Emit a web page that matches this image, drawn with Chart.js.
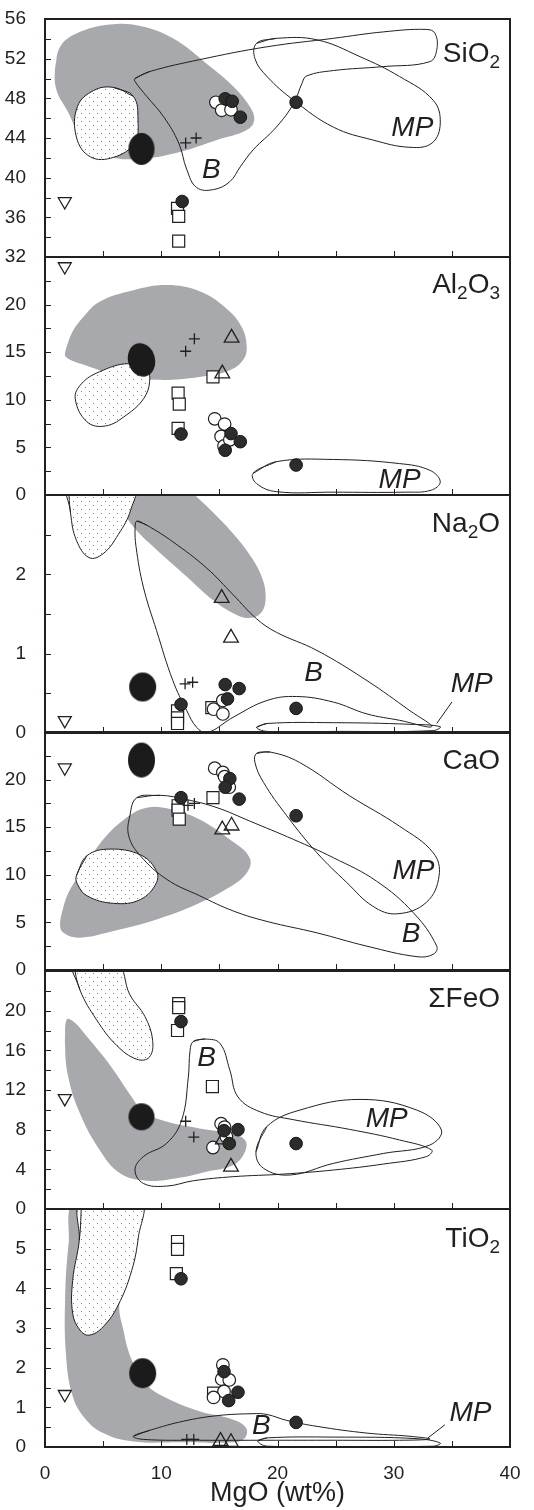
<!DOCTYPE html>
<html>
<head>
<meta charset="utf-8">
<script src="https://cdn.jsdelivr.net/npm/chart.js@4.4.1/dist/chart.umd.min.js"></script>
<style>
  html, body { margin: 0; padding: 0; background: #fff; }
  #wrap { position: relative; width: 534px; height: 1510px; overflow: hidden; }
  #wrap canvas { position: absolute; left: 0; }
</style>
</head>
<body>
<div id="wrap"></div>
<script>
// x axis (MgO, wt%)
const mgoTicks = [0, 10, 20, 30, 40];
const mgoMarks = [5, 10, 15, 20, 25, 30, 35];

// ---- SiO2 ----
const sio2Ticks = [32, 36, 40, 44, 48, 52, 56];
const sio2Filled = [[11.8, 37.6], [15.5, 47.95], [16.1, 47.7], [16.8, 46.1], [21.6, 47.6]];
const sio2Open = [[14.7, 47.6], [15.2, 46.8], [16.0, 46.85]];
const sio2Square = [[11.4, 36.9], [11.5, 36.1], [11.5, 33.6]];
const sio2Cross = [[12.1, 43.5], [13.0, 44.0]];
const sio2Tri = [];
const sio2Inv = [[1.7, 37.6]];
const sio2Big = [[8.3, 42.9]];
const sio2Gray = [[0.86, 50.9], [1.3, 53.2], [2.7, 54.55], [5.6, 55.45], [8.2, 55.3], [11.0, 54.05], [13.9, 51.5], [16.2, 49.2], [17.6, 47.2], [18.0, 45.8], [17.35, 44.8], [14.8, 43.8], [11.6, 42.6], [8.5, 41.95], [5.6, 42.1], [3.3, 43.8], [1.9, 46.8], [1.0, 48.8]];
const sio2Dots = [[5.9, 49.1], [7.6, 48.2], [8.0, 45.8], [7.7, 43.5], [5.9, 42.05], [3.9, 42.1], [2.7, 44.1], [2.8, 47.2], [4.2, 48.8]];
const sio2B = [[7.74, 50.0], [9.0, 50.7], [13.3, 51.9], [19.1, 53.2], [24.8, 54.05], [29.1, 54.7], [32.8, 54.95], [33.55, 54.55], [33.7, 52.9], [33.1, 51.7], [29.1, 51.2], [24.8, 50.8], [22.5, 50.25], [22.1, 49.5], [21.4, 47.5], [19.9, 45.1], [17.9, 42.8], [16.8, 41.1], [15.9, 39.6], [14.5, 38.8], [13.05, 39.0], [12.2, 40.8], [11.5, 43.5], [10.2, 46.15], [8.75, 48.2], [7.74, 49.7]];
const sio2MP = [[18.2, 53.55], [19.9, 54.05], [23.4, 53.9], [27.1, 52.2], [30.5, 50.2], [33.4, 47.8], [34.0, 45.5], [33.3, 43.5], [31.4, 43.06], [28.2, 43.8], [24.8, 45.1], [21.4, 47.8], [19.1, 50.2], [18.06, 52.0]];
const sio2Notes = [['B', 14.3, 40.8], ['MP', 31.6, 45.0]];

// ---- Al2O3 ----
const al2o3Ticks = [0, 5, 10, 15, 20];
const al2o3Filled = [[11.7, 6.4], [16.0, 6.45], [16.8, 5.6], [15.5, 4.7], [21.6, 3.15]];
const al2o3Open = [[14.6, 8.0], [15.45, 7.45], [15.15, 6.15], [15.4, 5.15], [15.9, 5.8]];
const al2o3Square = [[11.45, 10.7], [11.55, 9.55], [11.45, 7.0], [14.45, 12.4]];
const al2o3Cross = [[12.1, 15.1], [12.85, 16.4]];
const al2o3Tri = [[16.05, 16.5], [15.25, 12.75]];
const al2o3Inv = [[1.7, 24.0]];
const al2o3Big = [[8.3, 14.2]];
const al2o3Gray = [[1.72, 14.9], [2.3, 17.0], [3.3, 18.7], [4.7, 20.3], [7.6, 21.5], [10.5, 22.05], [13.3, 21.4], [15.6, 19.6], [16.9, 17.7], [17.35, 15.6], [17.05, 14.2], [15.9, 13.1], [13.3, 12.4], [9.6, 12.1], [6.2, 12.6], [3.3, 13.7], [1.9, 14.4]];
const al2o3Dots = [[7.2, 13.8], [8.75, 13.1], [9.0, 11.9], [8.5, 10.15], [7.0, 8.4], [5.2, 7.25], [3.6, 7.7], [2.6, 10.15], [3.15, 11.7], [4.7, 12.95]];
const al2o3B = [];
const al2o3MP = [[17.9, 2.28], [19.9, 3.5], [24.8, 3.73], [30.5, 3.3], [33.1, 2.6], [34.0, 1.4], [33.2, 0.5], [31.0, 0.3], [24.8, 0.3], [19.9, 0.35], [18.2, 1.2]];
const al2o3Notes = [['MP', 30.5, 1.6]];

// ---- Na2O ----
const na2oTicks = [0, 1, 2];
const na2oFilled = [[11.7, 0.36], [15.5, 0.61], [16.7, 0.56], [15.7, 0.43], [21.6, 0.31]];
const na2oOpen = [[14.5, 0.3], [15.3, 0.24], [15.3, 0.41]];
const na2oSquare = [[11.4, 0.28], [11.4, 0.19], [11.4, 0.12], [14.35, 0.32]];
const na2oCross = [[12.05, 0.62], [12.7, 0.64]];
const na2oTri = [[15.2, 1.7], [16.0, 1.2]];
const na2oInv = [[1.7, 0.16]];
const na2oBig = [[8.4, 0.58]];
const na2oGray = [[7.46, 3.32], [7.17, 2.94], [6.97, 2.77], [7.6, 2.6], [9.6, 2.31], [12.2, 1.97], [14.5, 1.67], [16.2, 1.51], [17.5, 1.45], [18.55, 1.51], [18.98, 1.7], [18.64, 1.97], [17.5, 2.27], [15.9, 2.56], [13.9, 2.86], [12.5, 3.07], [11.6, 3.32]];
const na2oDots = [[2.0, 3.19], [2.2, 2.77], [2.7, 2.43], [3.8, 2.21], [5.0, 2.26], [6.3, 2.5], [7.37, 2.81], [7.74, 3.19]];
const na2oB = [[7.9, 2.67], [8.75, 2.62], [11.0, 2.41], [13.9, 2.08], [16.2, 1.74], [18.2, 1.44], [19.9, 1.27], [23.4, 1.04], [27.7, 0.66], [31.4, 0.28], [33.26, 0.08], [30.5, 0.16], [27.7, 0.24], [24.8, 0.39], [21.65, 0.46], [19.1, 0.41], [16.2, 0.2], [13.9, 0.0], [13.05, 0.07], [12.2, 0.28], [11.0, 0.66], [9.6, 1.29], [8.46, 1.84], [7.83, 2.35], [7.75, 2.58]];
const na2oMP = [[18.2, 0.07], [19.1, 0.12], [24.8, 0.13], [31.4, 0.11], [34.0, 0.08], [33.4, 0.03], [24.8, 0.02], [19.1, 0.02]];
const na2oLeader = [[33.7, 0.12], [35.0, 0.39]];
const na2oNotes = [['B', 23.1, 0.75], ['MP', 36.7, 0.62]];

// ---- CaO ----
const caoTicks = [0, 5, 10, 15, 20];
const caoFilled = [[11.7, 18.1], [15.9, 20.1], [15.5, 19.2], [16.7, 17.95], [21.6, 16.2]];
const caoOpen = [[14.6, 21.2], [15.3, 20.75], [15.45, 20.3], [15.85, 19.2]];
const caoSquare = [[14.45, 18.1], [11.45, 17.25], [11.45, 16.8], [11.55, 15.85]];
const caoCross = [[12.3, 17.3], [12.85, 17.5]];
const caoTri = [[15.25, 14.75], [16.05, 15.15]];
const caoInv = [[1.7, 21.25]];
const caoBig = [[8.3, 22.05]];
const caoGray = [[1.3, 5.0], [1.9, 7.8], [3.3, 10.6], [5.0, 13.7], [7.0, 16.0], [8.75, 17.05], [10.75, 16.9], [13.3, 15.8], [15.9, 13.7], [17.6, 11.8], [17.35, 10.2], [15.6, 8.5], [13.05, 6.9], [9.6, 5.3], [5.9, 4.1], [3.0, 3.4], [1.6, 3.9]];
const caoDots = [[2.7, 9.9], [3.6, 12.0], [5.6, 12.7], [8.2, 12.1], [9.5, 10.6], [9.6, 9.2], [8.2, 7.4], [5.9, 7.0], [3.6, 7.8], [2.8, 9.0]];
const caoB = [[7.9, 18.1], [9.9, 18.35], [12.2, 17.9], [14.8, 17.05], [17.6, 15.65], [21.4, 13.7], [24.8, 11.8], [28.5, 9.35], [31.7, 6.0], [33.7, 2.5], [33.4, 1.65], [32.0, 1.4], [27.7, 2.5], [23.4, 3.9], [19.1, 5.1], [16.2, 6.2], [13.3, 7.8], [10.5, 9.5], [8.2, 12.0], [7.2, 14.1], [7.3, 16.2]];
const caoMP = [[18.2, 22.75], [19.35, 22.9], [21.9, 21.8], [26.2, 18.3], [30.5, 15.1], [33.4, 12.3], [33.9, 9.9], [32.8, 7.1], [30.25, 5.9], [28.2, 6.7], [25.95, 9.2], [23.4, 12.3], [20.8, 16.2], [18.8, 19.7], [18.06, 21.8]];
const caoNotes = [['MP', 31.7, 10.4], ['B', 31.5, 3.75]];

// ---- ΣFeO ----
const feoTicks = [0, 4, 8, 12, 16, 20];
const feoFilled = [[11.7, 18.9], [15.4, 7.9], [16.6, 8.0], [15.85, 6.6], [21.6, 6.6]];
const feoOpen = [[15.15, 8.6], [15.45, 8.25], [14.45, 6.2], [15.6, 7.3]];
const feoSquare = [[11.5, 20.7], [11.5, 20.3], [11.4, 18.0], [14.4, 12.35]];
const feoCross = [[12.1, 8.85], [12.8, 7.25]];
const feoTri = [[16.0, 4.25], [15.3, 7.0]];
const feoInv = [[1.7, 11.15]];
const feoBig = [[8.3, 9.3]];
const feoGray = [[1.86, 19.1], [1.72, 16.7], [2.0, 13.3], [3.0, 9.65], [4.7, 5.95], [6.45, 3.6], [8.75, 2.85], [11.3, 3.1], [13.9, 3.76], [16.2, 4.43], [17.2, 5.78], [17.2, 6.96], [15.9, 7.63], [13.3, 8.13], [10.5, 8.8], [8.46, 9.8], [7.46, 11.3], [5.6, 14.5], [3.6, 17.4], [2.44, 18.9]];
const feoDots = [[2.44, 24.8], [3.0, 22.1], [4.44, 19.07], [6.16, 16.5], [7.9, 15.1], [8.97, 15.3], [9.26, 17.0], [8.6, 19.4], [7.3, 21.6], [6.16, 24.8]];
const feoB = [[12.76, 16.9], [13.76, 17.14], [15.05, 16.7], [15.9, 14.0], [16.6, 11.3], [18.5, 9.8], [21.4, 9.0], [26.2, 8.03], [30.5, 6.96], [33.26, 5.95], [32.8, 5.28], [29.1, 4.53], [24.8, 3.93], [20.5, 3.52], [16.2, 3.26], [12.76, 2.85], [10.47, 2.31], [8.46, 2.58], [7.74, 3.93], [8.46, 5.28], [10.47, 6.63], [11.76, 8.97], [12.33, 13.3], [12.48, 16.0]];
const feoMP = [[18.15, 5.78], [19.07, 8.3], [21.94, 9.98], [27.1, 11.05], [31.97, 9.98], [34.1, 7.96], [33.1, 6.45], [29.1, 5.6], [24.8, 4.6], [21.1, 3.43], [18.8, 4.1]];
const feoNotes = [['B', 13.9, 15.2], ['MP', 29.4, 9.1]];

// ---- TiO2 ----
const tio2Ticks = [0, 1, 2, 3, 4, 5];
const tio2Filled = [[11.7, 4.24], [15.4, 1.9], [16.6, 1.38], [15.8, 1.17], [21.6, 0.62]];
const tio2Open = [[15.3, 2.07], [15.2, 1.71], [15.85, 1.69], [15.4, 1.4], [14.5, 1.25]];
const tio2Square = [[11.4, 5.18], [11.4, 4.98], [11.3, 4.37], [14.5, 1.36]];
const tio2Cross = [[12.2, 0.19], [12.8, 0.19]];
const tio2Tri = [[15.1, 0.15], [16.0, 0.12]];
const tio2Inv = [[1.7, 1.33]];
const tio2Big = [[8.4, 1.86]];
const tio2Gray = [[2.58, 6.2], [2.0, 5.04], [1.72, 3.62], [1.8, 2.36], [2.3, 1.36], [3.3, 0.77], [5.0, 0.35], [7.6, 0.14], [11.9, 0.12], [16.2, 0.12], [17.2, 0.23], [17.3, 0.48], [16.2, 0.69], [13.3, 0.9], [10.5, 1.23], [8.75, 1.57], [7.46, 2.2], [6.74, 2.95], [6.4, 3.62], [7.6, 6.2]];
const tio2Dots = [[3.15, 6.2], [2.95, 5.21], [2.38, 4.2], [2.38, 3.37], [3.0, 2.95], [3.8, 2.82], [5.0, 3.03], [6.3, 3.58], [7.46, 4.45], [8.03, 5.29], [8.23, 6.2]];
const tio2B = [[7.6, 0.27], [9.0, 0.42], [11.9, 0.65], [14.8, 0.79], [17.9, 0.84], [19.1, 0.82], [20.8, 0.67], [23.4, 0.52], [27.7, 0.35], [31.4, 0.27], [33.1, 0.2], [30.5, 0.17], [24.8, 0.17], [19.1, 0.17], [13.3, 0.17], [8.5, 0.19]];
const tio2MP = [[18.3, 0.15], [19.1, 0.23], [24.8, 0.25], [32.0, 0.21], [34.0, 0.1], [33.4, 0.02], [24.8, 0.0], [19.1, 0.02]];
const tio2Leader = [[32.9, 0.22], [34.4, 0.56]];
const tio2Notes = [['B', 18.6, 0.52], ['MP', 36.6, 0.86]];

const FONT = '"Liberation Sans", Arial, Helvetica, sans-serif';
const INK = '#231f20';
Chart.defaults.font.family = FONT;
Chart.defaults.color = INK;

const panels = [
  { name: [['SiO', 0], ['2', 1]], nameDy: 43, top: 19, min: 32, max: 56, step: 2, ticks: sio2Ticks, blob: [26, 32, 0],
    filled: sio2Filled, open: sio2Open, square: sio2Square, cross: sio2Cross, tri: sio2Tri, inv: sio2Inv, big: sio2Big,
    gray: sio2Gray, dots: sio2Dots, b: sio2B, mp: sio2MP, leader: null, notes: sio2Notes },
  { name: [['Al', 0], ['2', 1], ['O', 0], ['3', 1]], nameDy: 36, top: 257, min: 0, max: 25, step: 2.5, ticks: al2o3Ticks, blob: [27, 34, -0.25],
    filled: al2o3Filled, open: al2o3Open, square: al2o3Square, cross: al2o3Cross, tri: al2o3Tri, inv: al2o3Inv, big: al2o3Big,
    gray: al2o3Gray, dots: al2o3Dots, b: al2o3B, mp: al2o3MP, leader: null, notes: al2o3Notes },
  { name: [['Na', 0], ['2', 1], ['O', 0]], nameDy: 37, top: 495, min: 0, max: 3, step: 0.5, ticks: na2oTicks, blob: [27, 29, 0],
    filled: na2oFilled, open: na2oOpen, square: na2oSquare, cross: na2oCross, tri: na2oTri, inv: na2oInv, big: na2oBig,
    gray: na2oGray, dots: na2oDots, b: na2oB, mp: na2oMP, leader: na2oLeader, notes: na2oNotes },
  { name: [['CaO', 0]], nameDy: 37, top: 732, min: 0, max: 25, step: 2.5, ticks: caoTicks, blob: [27, 35, 0],
    filled: caoFilled, open: caoOpen, square: caoSquare, cross: caoCross, tri: caoTri, inv: caoInv, big: caoBig,
    gray: caoGray, dots: caoDots, b: caoB, mp: caoMP, leader: null, notes: caoNotes },
  { name: [['\u03A3FeO', 0]], nameDy: 36, top: 971, min: 0, max: 24, step: 2, ticks: feoTicks, blob: [26, 27, 0],
    filled: feoFilled, open: feoOpen, square: feoSquare, cross: feoCross, tri: feoTri, inv: feoInv, big: feoBig,
    gray: feoGray, dots: feoDots, b: feoB, mp: feoMP, leader: null, notes: feoNotes },
  { name: [['TiO', 0], ['2', 1]], nameDy: 38, top: 1209, min: 0, max: 6, step: 0.5, ticks: tio2Ticks, blob: [27, 30, 0],
    filled: tio2Filled, open: tio2Open, square: tio2Square, cross: tio2Cross, tri: tio2Tri, inv: tio2Inv, big: tio2Big,
    gray: tio2Gray, dots: tio2Dots, b: tio2B, mp: tio2MP, leader: tio2Leader, notes: tio2Notes }
];

const PANEL_H = 238, PAD = 12, W = 534;

// sparse stipple used for the dotted fields
function dotPattern() {
  const c = document.createElement('canvas');
  c.width = 8; c.height = 8;
  const g = c.getContext('2d');
  g.fillStyle = '#fff';
  g.fillRect(0, 0, 8, 8);
  g.fillStyle = '#858585';
  g.fillRect(1, 2, 1, 1);
  g.fillRect(5, 6, 1, 1);
  return g.createPattern(c, 'repeat');
}

function blobCanvas(w, h, rot) {
  const c = document.createElement('canvas');
  c.width = w + 6; c.height = h + 6;
  const g = c.getContext('2d');
  g.fillStyle = '#1b1b1b';
  g.beginPath();
  g.ellipse(c.width / 2, c.height / 2, w / 2, h / 2, rot, 0, Math.PI * 2);
  g.fill();
  return c;
}

// repeat the first two points so the smooth outline closes without a kink
function loop(pts) {
  return pts.length ? pts.concat([pts[0], pts[1]]) : [];
}

function buildDatasets(p, pattern) {
  const mark = (o) => Object.assign({ clip: false, showLine: false }, o);
  const region = (o) => Object.assign({ type: 'line', pointRadius: 0, pointHitRadius: 0, tension: 0.4, borderWidth: 1, borderColor: INK, fill: false }, o);
  const ds = [
    mark({ data: p.filled, pointStyle: 'circle', pointRadius: 6.3, pointBackgroundColor: '#2b2d2b', pointBorderColor: '#151515', pointBorderWidth: 1, order: 0 }),
    mark({ data: p.cross, pointStyle: 'cross', pointRadius: 5.5, pointBorderColor: INK, pointBorderWidth: 1.3, order: 1 }),
    mark({ data: p.tri, pointStyle: 'triangle', pointRadius: 8.5, pointBackgroundColor: 'rgba(0,0,0,0)', pointBorderColor: INK, pointBorderWidth: 1.3, order: 2 }),
    mark({ data: p.open, pointStyle: 'circle', pointRadius: 6.3, pointBackgroundColor: '#fff', pointBorderColor: INK, pointBorderWidth: 1.2, order: 3 }),
    mark({ data: p.square, pointStyle: 'rect', pointRadius: 8.5, pointBackgroundColor: '#fff', pointBorderColor: INK, pointBorderWidth: 1.2, order: 4 }),
    mark({ data: p.inv, pointStyle: 'triangle', pointRotation: 180, pointRadius: 7.5, pointBackgroundColor: 'rgba(0,0,0,0)', pointBorderColor: INK, pointBorderWidth: 1.3, order: 5 }),
    mark({ data: p.big, pointStyle: blobCanvas(...p.blob), pointRadius: 14, order: 6 }),
    region({ data: loop(p.mp), order: 7 }),
    region({ data: loop(p.b), order: 8 }),
    region({ data: loop(p.dots), fill: 'shape', backgroundColor: pattern, order: 9 }),
    region({ data: loop(p.gray), fill: 'shape', backgroundColor: '#a7a9ac', borderColor: 'rgba(0,0,0,0)', borderWidth: 0, order: 10 })
  ];
  if (p.leader) ds.push(region({ data: p.leader, tension: 0, order: 7 }));
  return ds;
}

function drawName(ctx, parts, right, base) {
  const big = '28px ' + FONT, small = '19px ' + FONT;
  let w = 0;
  parts.forEach(([t, sub]) => { ctx.font = sub ? small : big; w += ctx.measureText(t).width; });
  let x = right - w;
  ctx.textAlign = 'left';
  ctx.textBaseline = 'alphabetic';
  parts.forEach(([t, sub]) => {
    ctx.font = sub ? small : big;
    ctx.fillText(t, x, sub ? base + 6 : base);
    x += ctx.measureText(t).width;
  });
}

function decor(p) {
  return {
    id: 'decor',
    afterDatasetsDraw(chart) {
      const { ctx, chartArea: a, scales: { x, y } } = chart;
      ctx.save();
      ctx.strokeStyle = INK;
      ctx.lineWidth = 1;
      ctx.beginPath();
      y.ticks.forEach(t => {
        const py = Math.round(y.getPixelForValue(t.value)) + 0.5;
        if (py > a.top + 2 && py < a.bottom - 2) { ctx.moveTo(a.left, py); ctx.lineTo(a.left + 6, py); }
      });
      mgoMarks.forEach(v => {
        const px = Math.round(x.getPixelForValue(v)) + 0.5;
        ctx.moveTo(px, a.bottom); ctx.lineTo(px, a.bottom - 6);
      });
      ctx.stroke();
      ctx.lineWidth = 2;
      ctx.strokeRect(a.left, a.top, a.right - a.left, a.bottom - a.top);
      ctx.fillStyle = INK;
      ctx.font = 'italic 28px ' + FONT;
      ctx.textAlign = 'center';
      ctx.textBaseline = 'middle';
      p.notes.forEach(([t, vx, vy]) => ctx.fillText(t, x.getPixelForValue(vx), y.getPixelForValue(vy)));
      drawName(ctx, p.name, a.right - 10, a.top + p.nameDy);
      ctx.restore();
    }
  };
}

const wrap = document.getElementById('wrap');
const pattern = dotPattern();

panels.forEach((p, i) => {
  const last = i === panels.length - 1;
  const top = p.top - PAD;
  const height = last ? 1510 - top : PANEL_H + 2 * PAD;
  const cv = document.createElement('canvas');
  cv.width = W;
  cv.height = height;
  cv.style.top = top + 'px';
  cv.style.width = W + 'px';
  cv.style.height = height + 'px';
  wrap.appendChild(cv);

  const xAxis = last ? {
    type: 'linear', min: 0, max: 40,
    ticks: { stepSize: 10, autoSkip: false, padding: 7, color: INK, font: { size: 19 },
      callback: (v) => mgoTicks.includes(v) ? String(v) : '' },
    grid: { display: false },
    border: { display: false },
    title: { display: true, text: 'MgO (wt%)', color: INK, font: { size: 27 }, padding: { top: 0, bottom: 0 } },
    afterFit: (s) => { s.height = height - PAD - PANEL_H; s.paddingLeft = 0; s.paddingRight = 0; }
  } : { type: 'linear', min: 0, max: 40, display: false };

  new Chart(cv, {
    type: 'scatter',
    data: { datasets: buildDatasets(p, pattern) },
    options: {
      responsive: false,
      animation: false,
      events: [],
      layout: { autoPadding: false, padding: { top: PAD, bottom: last ? 0 : PAD, left: 0, right: 24 } },
      plugins: { legend: { display: false }, tooltip: { enabled: false } },
      scales: {
        x: xAxis,
        y: {
          type: 'linear', min: p.min, max: p.max,
          ticks: { stepSize: p.step, autoSkip: false, padding: 11, color: INK, font: { size: 19 },
            callback: (v) => p.ticks.includes(v) ? String(v) : '' },
          grid: { display: false },
          border: { display: false },
          // fixed axis width, and no extra label padding so panels butt together
          afterFit: (s) => { s.width = 45; s.paddingTop = 0; s.paddingBottom = 0; }
        }
      }
    },
    plugins: [decor(p)]
  });
});
</script>
</body>
</html>
